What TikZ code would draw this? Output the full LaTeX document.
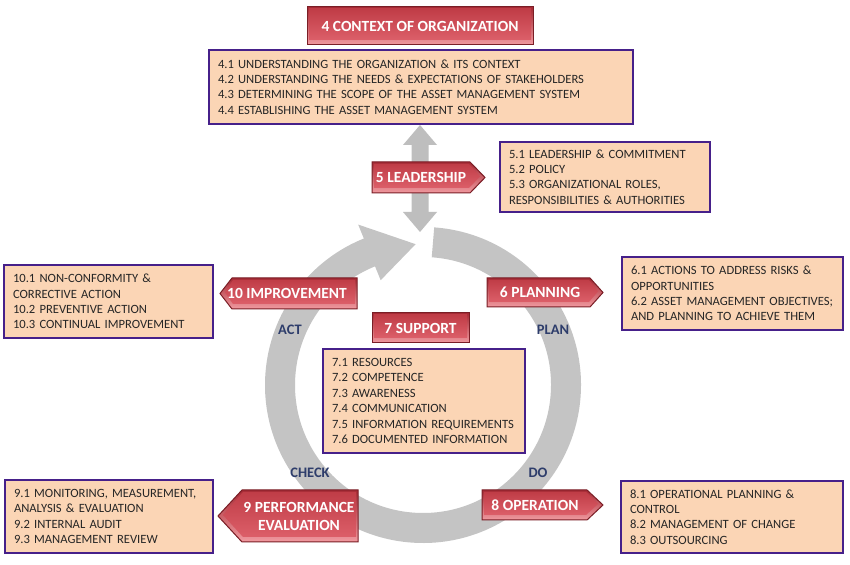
\documentclass[tikz,border=0pt]{standalone}
\usepackage{fontspec}
\setmainfont{Carlito}
\definecolor{ringgray}{HTML}{C4C4C4}
\definecolor{arrgray}{HTML}{BEBEBE}
\definecolor{peach}{HTML}{FBD5B5}
\definecolor{purp}{HTML}{46208A}
\definecolor{txt}{HTML}{262626}
\definecolor{navy}{HTML}{2E3D6B}
\definecolor{redlo}{HTML}{F19AA0}
\definecolor{redhi}{HTML}{A52A34}
\definecolor{facetop}{HTML}{C03D47}
\definecolor{facebot}{HTML}{DC5F69}
\definecolor{redline}{HTML}{7A1E26}
\tikzset{
 infobox/.style={draw=purp, line width=2.5, fill=peach, align=left, inner xsep=9, inner ysep=3, text=txt, font=\fontsize{12.6}{15.4}\selectfont},
 redlbl/.style={text=white, font=\bfseries\fontsize{15.5}{18}\selectfont, align=center, inner sep=1},
 pdca/.style={text=navy, font=\bfseries\fontsize{14.5}{16}\selectfont},
 bevout/.style={top color=redhi, bottom color=redlo, draw=redline, line width=1},
 bevin/.style={top color=facetop, bottom color=facebot},
}
\newcommand\chevR[5]{%
 \path[bevout] (#1,#4) -- (#2,#4) -- (#3,{(#4+#5)/2}) -- (#2,#5) -- (#1,#5) -- cycle;
 \path[bevin] ({#1+2},{#4+5}) -- ({#2-1},{#4+5}) -- ({#3-5},{(#4+#5)/2+1}) -- ({#2-1},{#5-2}) -- ({#1+2},{#5-2}) -- cycle;
}
\newcommand\chevL[5]{%
 \path[bevout] (#2,#4) -- (#1,#4) -- (#3,{(#4+#5)/2}) -- (#1,#5) -- (#2,#5) -- cycle;
 \path[bevin] ({#2-2},{#4+5}) -- ({#1+1},{#4+5}) -- ({#3+5},{(#4+#5)/2+1}) -- ({#1+1},{#5-2}) -- ({#2-2},{#5-2}) -- cycle;
}
\newcommand\bevRect[4]{%
 \path[bevout] (#1,#3) rectangle (#2,#4);
 \path[bevin] ({#1+2},{#3+5}) rectangle ({#2-2},{#4-2});
}
\begin{document}
\begin{tikzpicture}[x=1pt,y=1pt]
\useasboundingbox (0,0) rectangle (850,564);
\fill[white] (0,0) rectangle (850,564);
% PDCA ring
\draw[ringgray, line width=30] ([shift={(423,179)}]86:143) arc[start angle=86, end angle=-249, radius=143];
\fill[ringgray] ([shift={(423,179)}]112:113) -- ([shift={(423,179)}]112:173) -- ([shift={(423,179)}]93:141) -- cycle;
% double arrow
\fill[arrgray] (420,439) -- (437,419) -- (428.5,419) -- (428.5,352) -- (437,352) -- (420,332) -- (403,352) -- (411.5,352) -- (411.5,419) -- (403,419) -- cycle;
% 4
\bevRect{307}{533}{519}{557}
\node[redlbl] (t4) at (420,538) {4 CONTEXT OF ORGANIZATION};
\node[infobox, text width=406, minimum height=74] (b4) at (421,477) {4.1 UNDERSTANDING THE ORGANIZATION \& ITS CONTEXT\\4.2 UNDERSTANDING THE NEEDS \& EXPECTATIONS OF STAKEHOLDERS\\4.3 DETERMINING THE SCOPE OF THE ASSET MANAGEMENT SYSTEM\\4.4 ESTABLISHING THE ASSET MANAGEMENT SYSTEM};
% 5
\chevR{372}{470}{485}{371}{402}
\node[redlbl] (t5) at (421,386.5) {5 LEADERSHIP};
\node[infobox, text width=192, minimum height=70] (b5) at (605,387) {5.1 LEADERSHIP \& COMMITMENT\\5.2 POLICY\\5.3 ORGANIZATIONAL ROLES,\\RESPONSIBILITIES \& AUTHORITIES};
% 10
\chevL{232}{357}{220}{255}{286}
\node[redlbl] (t10) at (287,270.5) {10 IMPROVEMENT};
\node[infobox, text width=191, minimum height=73] (b10) at (108.5,262.5) {10.1 NON-CONFORMITY \&\\CORRECTIVE ACTION\\10.2 PREVENTIVE ACTION\\10.3 CONTINUAL IMPROVEMENT};
% 6
\chevR{487}{590}{603}{257}{286}
\node[redlbl] (t6) at (540,271.5) {6 PLANNING};
\node[infobox, text width=203, minimum height=73] (b6) at (732.5,270.5) {6.1 ACTIONS TO ADDRESS RISKS \&\\OPPORTUNITIES\\6.2 ASSET MANAGEMENT OBJECTIVES;\\AND PLANNING TO ACHIEVE THEM};
% 7
\bevRect{372}{469}{221}{251}
\node[redlbl] (t7) at (420.5,236) {7 SUPPORT};
\node[infobox, text width=184, minimum height=104] (b7) at (424,163) {7.1 RESOURCES\\7.2 COMPETENCE\\7.3 AWARENESS\\7.4 COMMUNICATION\\7.5 INFORMATION REQUIREMENTS\\7.6 DOCUMENTED INFORMATION};
% 9
\chevL{242}{358}{218}{22}{74}
\node[redlbl] (t9) at (299,48) {9 PERFORMANCE\\EVALUATION};
\node[infobox, text width=190, minimum height=73] (b9) at (109,47.5) {9.1 MONITORING, MEASUREMENT,\\ANALYSIS \& EVALUATION\\9.2 INTERNAL AUDIT\\9.3 MANAGEMENT REVIEW};
% 8
\chevR{482}{587}{603}{44}{74}
\node[redlbl] (t8) at (535,59) {8 OPERATION};
\node[infobox, text width=204, minimum height=72] (b8) at (732,47) {8.1 OPERATIONAL PLANNING \&\\CONTROL\\8.2 MANAGEMENT OF CHANGE\\8.3 OUTSOURCING};
% PDCA labels
\node[pdca] (act) at (290,234) {ACT};
\node[pdca] (plan) at (553,234) {PLAN};
\node[pdca] (check) at (310,91) {CHECK};
\node[pdca] (do) at (538,91) {DO};
\end{tikzpicture}
\end{document}
